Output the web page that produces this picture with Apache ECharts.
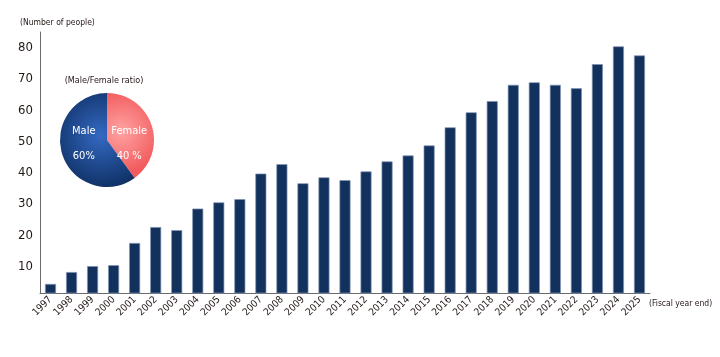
<!DOCTYPE html>
<html><head><meta charset="utf-8">
<script src="https://cdn.jsdelivr.net/npm/echarts@6/dist/echarts.min.js"></script>
<style>html,body{margin:0;padding:0;background:#fff}#c{width:720px;height:357px}</style>
</head><body><div id="c"></div>
<script>
const years = ['1997','1998','1999','2000','2001','2002','2003','2004','2005','2006','2007','2008','2009','2010','2011','2012','2013','2014','2015','2016','2017','2018','2019','2020','2021','2022','2023','2024','2025'];
const employees = [4.4,8.2,10.1,10.4,17.5,22.6,21.6,28.5,30.5,31.5,39.7,42.7,36.6,38.5,37.6,40.4,43.6,45.5,48.7,54.5,59.3,62.9,68.1,68.9,68.1,67.0,74.7,80.4,77.5];
const yTicks = [10,20,30,40,50,60,70,80];
const genderNames = ['Female','Male'];
const genderShare = [40,60];
const genderLabels = ['Female\n40 %','Male\n60%'];

const FONT = '"DejaVu Sans Condensed","Liberation Sans Narrow",sans-serif';
const chart = echarts.init(document.getElementById('c'));
const pieColors = [
  {type:'radial',x:0.3,y:0.45,r:0.9,colorStops:[{offset:0,color:'#ffa3a3'},{offset:1,color:'#f25a5c'}]},
  {type:'radial',x:0.55,y:0.45,r:0.8,colorStops:[{offset:0,color:'#3469c2'},{offset:1,color:'#0b2a5a'}]}
];
const pieLabelShift = [{dx:-3,dy:12},{dx:2,dy:-5}];
chart.setOption({
  animation:false,
  title:[
    {text:'(Number of people)',left:15,top:13,textStyle:{fontFamily:FONT,fontSize:8.5,fontWeight:'normal',color:'#231815'}},
    {text:'(Male/Female ratio)',left:99,top:71,textAlign:'center',textStyle:{fontFamily:FONT,fontSize:9,fontWeight:'normal',color:'#231815'}},
    {text:'(Fiscal year end)',left:644,top:294,textStyle:{fontFamily:FONT,fontSize:8.5,fontWeight:'normal',color:'#231815'}}
  ],
  grid:{left:40,right:70,top:32,bottom:64},
  xAxis:{
    type:'category',data:years,
    axisLine:{lineStyle:{color:'#6b6b6b',width:1}},
    axisTick:{show:false},
    axisLabel:{rotate:45,fontFamily:FONT,fontSize:10,color:'#231815',margin:5,interval:0}
  },
  yAxis:{
    type:'value',min:1.5,max:85,
    axisLine:{show:true,lineStyle:{color:'#6b6b6b',width:1}},
    axisTick:{show:false},
    splitLine:{show:false},
    axisLabel:{customValues:yTicks,fontFamily:FONT,fontSize:13,color:'#231815',margin:7}
  },
  series:[
    {type:'bar',data:employees,barWidth:11,
     itemStyle:{color:'#12315c',borderColor:'#8194b4',borderWidth:0.7}},
    {type:'pie',center:[107,140],radius:[0,47],startAngle:90,clockwise:true,
     data:genderNames.map((n,i)=>({name:n,value:genderShare[i],itemStyle:{color:pieColors[i]},label:{formatter:genderLabels[i]}})),
     label:{position:'inner',color:'#fff',fontFamily:FONT,fontSize:11,lineHeight:25},
     labelLayout:function(p){return pieLabelShift[p.dataIndex];},
     labelLine:{show:false},
     itemStyle:{borderWidth:0},
     emphasis:{disabled:true}}
  ]
});
</script></body></html>
